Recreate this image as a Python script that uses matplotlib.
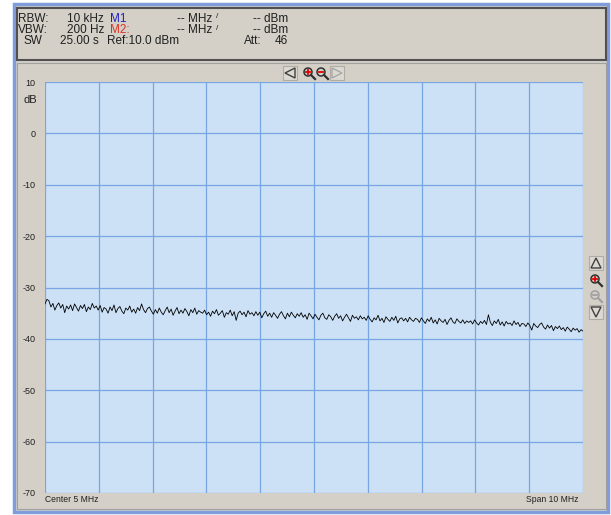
import numpy as np
import matplotlib.pyplot as plt
from matplotlib.patches import Rectangle, Polygon, Circle

# spectrum trace (dB), 0..10 MHz
trace_db = [
    -33.2, -32.3, -32.6, -33.8, -33.1, -34.4, -33.5, -33.0, -34.0, -33.3, -34.9, -33.6, -34.2, -33.4,
    -34.5, -33.2, -33.9, -34.6, -33.5, -34.1, -33.3, -34.7, -33.8, -34.3, -33.1, -34.0, -33.6,
    -34.4, -33.5, -34.8, -33.9, -34.2, -35.0, -33.8, -34.5, -33.4, -34.9, -34.1, -33.7, -34.6, -35.1,
    -34.0, -34.4, -33.6, -34.8, -34.2, -35.0, -33.9, -34.5, -33.2, -34.3, -34.9, -34.1, -33.8,
    -34.6, -35.2, -34.3, -35.0, -34.0, -34.8, -35.3, -34.5, -33.8, -34.9, -34.2, -35.4, -34.6, -33.9,
    -35.1, -34.4, -35.0, -34.1, -34.7, -35.5, -34.3, -34.9, -34.0, -35.2, -34.5, -34.8, -35.0,
    -34.4, -35.3, -34.8, -35.6, -34.6, -35.1, -34.3, -35.4, -35.0, -34.5, -35.8, -34.9, -35.2, -34.4,
    -35.5, -34.7, -36.4, -35.0, -34.6, -35.3, -34.8, -35.7, -34.5, -35.2, -34.9, -35.5, -34.7,
    -35.4, -34.8, -35.9, -35.1, -34.6, -35.6, -35.0, -35.8, -34.9, -35.4, -36.0, -35.2, -34.7, -35.5,
    -36.1, -35.0, -35.7, -34.8, -35.4, -35.9, -35.1, -35.6, -34.9, -35.8, -35.3, -36.2, -35.0,
    -35.5, -36.1, -35.2, -35.8, -36.3, -35.4, -35.0, -35.9, -36.2, -35.3, -35.7, -36.4, -35.6, -35.1,
    -36.0, -35.5, -36.5, -35.8, -35.2, -35.9, -36.6, -35.4, -36.0, -35.7, -36.3, -35.5, -36.1,
    -35.8, -36.4, -35.5, -36.2, -36.7, -35.9, -36.3, -35.4, -36.5, -36.0, -36.8, -35.7, -36.2, -36.6,
    -35.8, -36.4, -35.6, -36.9, -36.1, -35.9, -36.5, -36.0, -36.7, -35.8, -36.3, -36.6, -36.0,
    -36.2, -36.8, -35.9, -36.5, -37.0, -36.1, -36.6, -35.8, -36.9, -36.3, -37.1, -36.0, -36.5, -36.8,
    -36.2, -37.2, -36.4, -35.9, -36.7, -37.0, -36.1, -36.6, -36.9, -36.3, -37.0, -36.5, -36.8,
    -36.5, -37.1, -36.3, -36.9, -37.3, -36.6, -37.0, -36.4, -37.2, -35.3, -36.8, -37.4, -36.5, -37.0,
    -36.2, -37.3, -36.7, -37.5, -36.6, -37.1, -36.9, -37.4, -36.5, -37.2, -36.8, -37.6, -37.0,
    -37.1, -37.6, -36.9, -37.4, -38.3, -37.0, -37.5, -37.8, -37.2, -36.9, -37.7, -38.1, -37.3, -37.9,
    -37.4, -38.4, -37.6, -38.0, -37.5, -38.2, -37.8, -38.5, -37.7, -38.1, -38.6, -37.9, -38.3,
    -38.0, -38.7, -38.2, -38.5,
]
freq_mhz = np.linspace(0, 10, len(trace_db))

y_ticks = [10, 0, -10, -20, -30, -40, -50, -60, -70]
x_ticks = [0, 1, 2, 3, 4, 5, 6, 7, 8, 9, 10]

header_rows = [
    ("RBW:", "10 kHz", "M1", "#2020c0"),
    ("VBW:", "200 Hz", "M2:", "#e03020"),
]

W, H = 611, 515
GRAY = "#d4d0c8"
fig = plt.figure(figsize=(W / 100, H / 100), dpi=100)
fig.patch.set_facecolor("white")

# pixel-coordinate background layer
bg = fig.add_axes([0, 0, 1, 1], zorder=0)
bg.set_xlim(0, W)
bg.set_ylim(H, 0)
bg.axis("off")

bg.add_patch(Rectangle((14, 4), 594, 508, facecolor=GRAY, edgecolor="#7f9ddb", lw=2.5))
bg.add_patch(Rectangle((17, 8), 589, 52, facecolor=GRAY, edgecolor="#505050", lw=1.5))
bg.add_patch(Rectangle((17, 63), 589, 446, facecolor=GRAY, edgecolor="#a0a0a0", lw=0.8))

# header texts
font = dict(fontsize=8.5, family="Liberation Sans", va="center")
for i, (lab, val, mk, col) in enumerate(header_rows):
    y = 19 + i * 11
    bg.text(18, y, lab, ha="left", color="#202020", **font)
    bg.text(104, y, val, ha="right", color="#202020", **font)
    bg.text(110, y, mk, ha="left", color=col, **font)
    bg.text(212, y, "-- MHz", ha="right", color="#202020", **font)
    bg.text(216, y - 2, "/", ha="left", color="#202020", fontsize=6, family="Liberation Sans", va="center")
    bg.text(288, y, "-- dBm", ha="right", color="#202020", **font)
bg.text(42, 41, "SW", ha="right", color="#202020", **font)
bg.text(60, 41, "25.00 s", ha="left", color="#202020", **font)
bg.text(107, 41, "Ref:10.0 dBm", ha="left", color="#202020", **font)
bg.text(244, 41, "Att:", ha="left", color="#202020", **font)
bg.text(288, 41, "46", ha="right", color="#202020", **font)


def button(cx, cy):
    bg.add_patch(Rectangle((cx - 7, cy - 7), 14, 14, facecolor="#dcd9d2",
                           edgecolor="#b0aca4", lw=0.8))


def tri(cx, cy, d, col):
    s = 5
    pts = {"l": [(cx + s, cy - s), (cx + s, cy + s), (cx - s, cy)],
           "r": [(cx - s, cy - s), (cx - s, cy + s), (cx + s, cy)],
           "u": [(cx - s, cy + s), (cx + s, cy + s), (cx, cy - s)],
           "d": [(cx - s, cy - s), (cx + s, cy - s), (cx, cy + s)]}[d]
    bg.add_patch(Polygon(pts, closed=True, fill=False, edgecolor=col, lw=1))


def magnifier(cx, cy, plus, col, sign_col):
    bg.add_patch(Circle((cx - 1, cy - 1), 4, fill=False, edgecolor=col, lw=1.1))
    bg.plot([cx + 2, cx + 6], [cy + 2, cy + 6], color=col, lw=1.6)
    bg.plot([cx - 3, cx + 1], [cy - 1, cy - 1], color=sign_col, lw=1.3)
    if plus:
        bg.plot([cx - 1, cx - 1], [cy - 3, cy + 1], color=sign_col, lw=1.3)


for bx in (290, 337):
    button(bx, 73)
tri(290, 73, "l", "#404040")
magnifier(309, 73, True, "#303030", "#e00000")
magnifier(322, 73, False, "#303030", "#e00000")
tri(337, 73, "r", "#a8a8a8")

for by in (263, 312):
    button(596, by)
tri(596, 263, "u", "#404040")
magnifier(596, 280, True, "#303030", "#e00000")
magnifier(596, 296, False, "#a0a0a0", "#a0a0a0")
tri(596, 312, "d", "#404040")

bg.text(45, 500, "Center 5 MHz", ha="left", va="center", fontsize=6.2,
        family="Liberation Sans", color="#202020")
bg.text(578, 500, "Span 10 MHz", ha="right", va="center", fontsize=6.2,
        family="Liberation Sans", color="#202020")
bg.text(37, 100, "dB", ha="right", va="center", fontsize=8,
        family="Liberation Sans", color="#202020")

# spectrum axes
ax = fig.add_axes([45 / W, 1 - 493 / H, 538 / W, 411 / H], zorder=1)
ax.set_facecolor("#cce1f6")
ax.plot(freq_mhz, trace_db, color="black", lw=0.6)
ax.set_xlim(0, 10)
ax.set_ylim(-70, 10)
ax.set_xticks(x_ticks)
ax.set_yticks(y_ticks)
ax.set_xticklabels([])
ax.set_yticklabels([str(t) for t in y_ticks], fontsize=6.5, family="Liberation Sans")
ax.tick_params(length=0, pad=7, colors="#202020")
ax.grid(True, color="#78a6e2", lw=0.9)
for s in ax.spines.values():
    s.set_visible(False)

fig.savefig("out.png", dpi=100)
